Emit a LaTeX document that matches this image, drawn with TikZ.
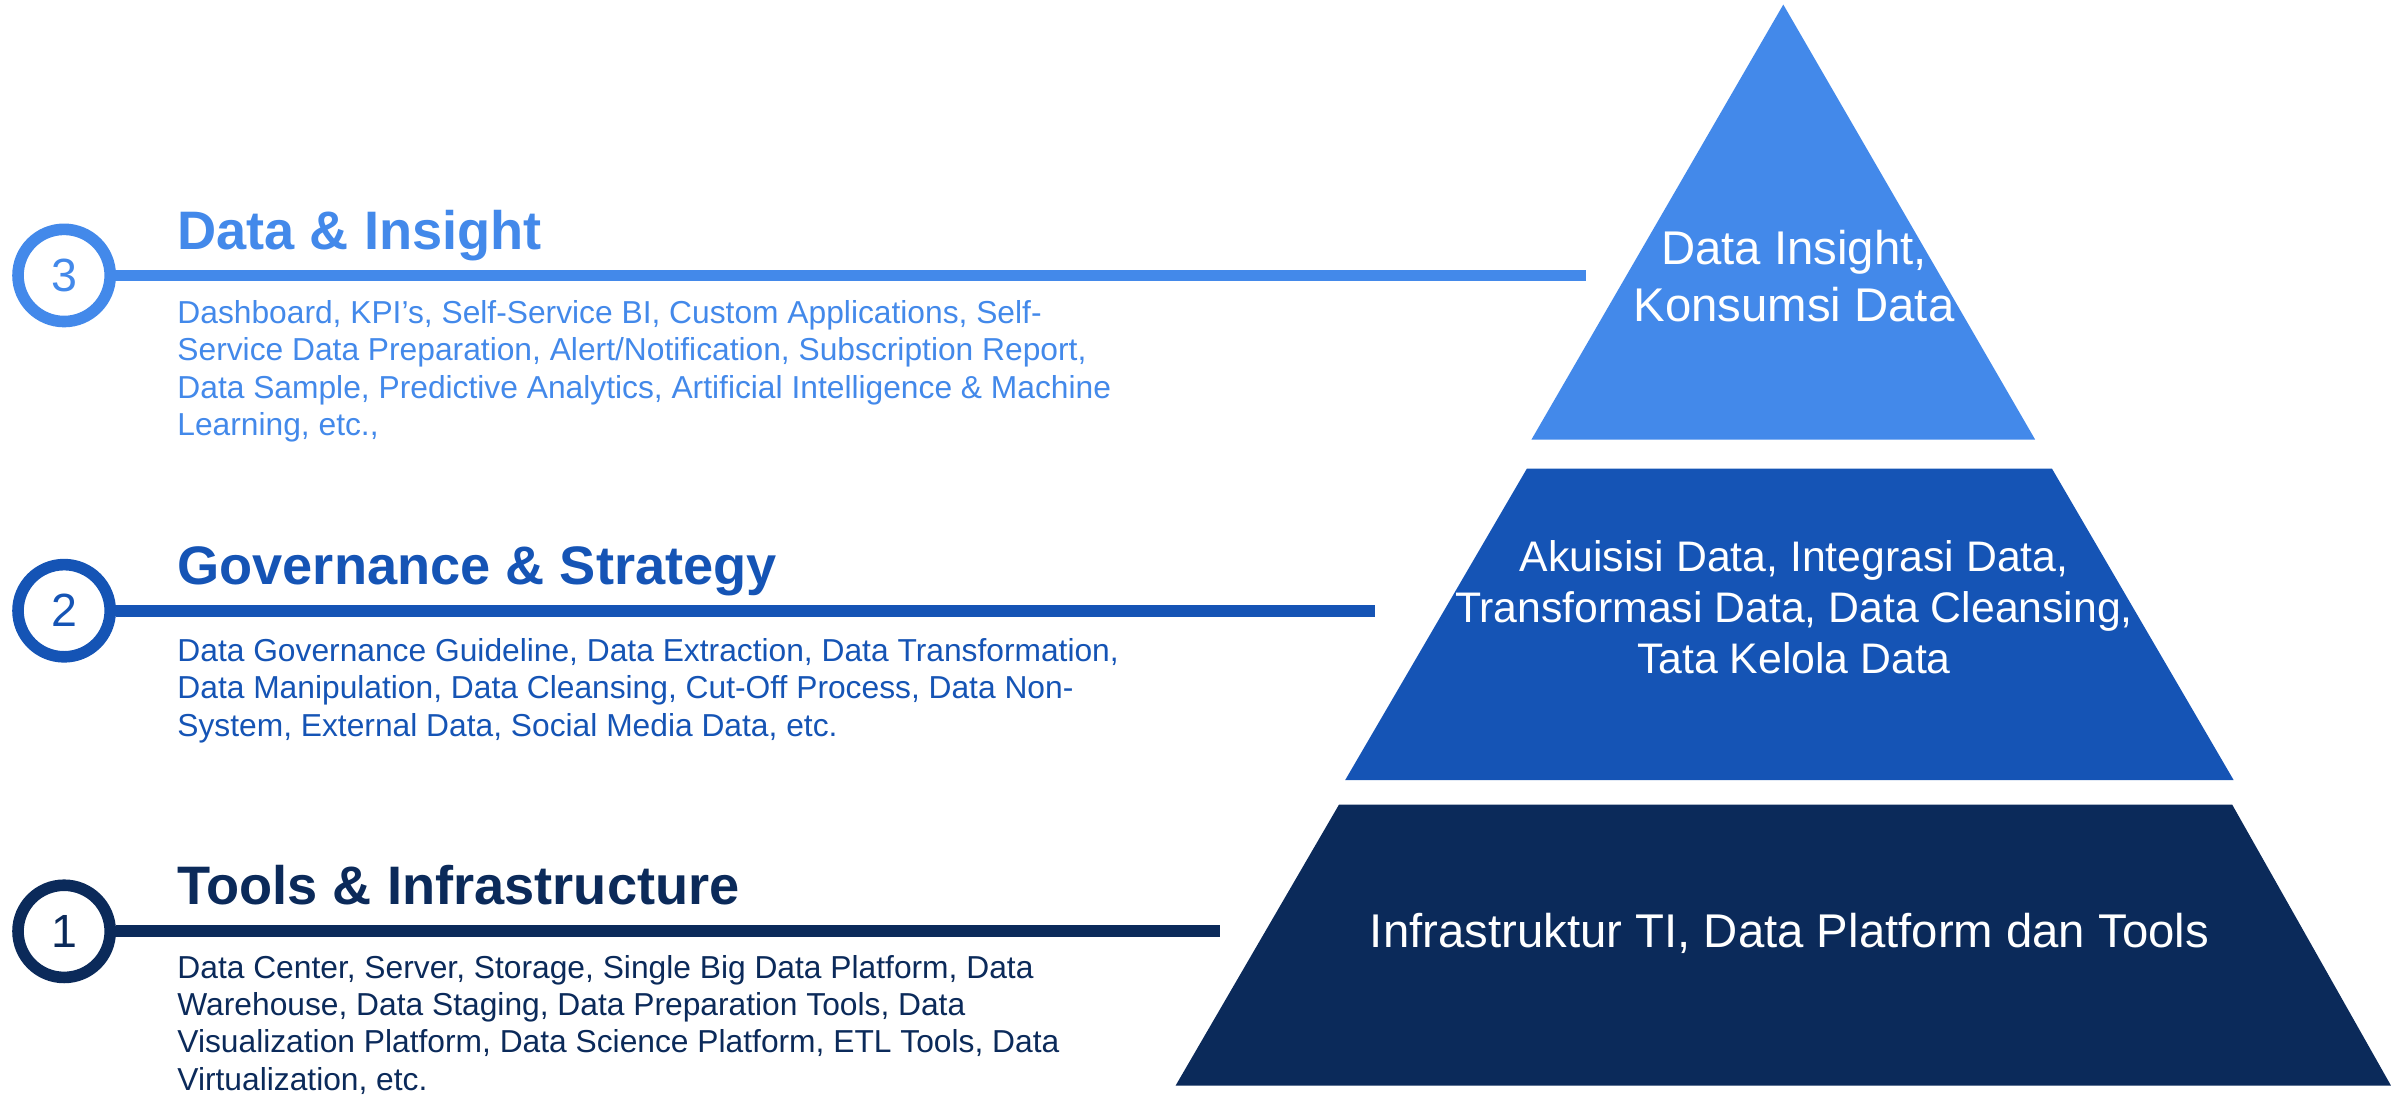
\documentclass[tikz,border=0pt]{standalone}
\usepackage{fontspec}
\setmainfont{Liberation Sans}
\definecolor{lightblue}{HTML}{4389EA}
\definecolor{midblue}{HTML}{1554B5}
\definecolor{navy}{HTML}{0B2A5A}
\begin{document}
\begin{tikzpicture}[x=1pt,y=-1pt,
  ring/.style={circle, draw=#1, line width=7.6pt, minimum size=60.4pt, inner sep=0pt, text=#1, font=\fontsize{30.5}{36}\selectfont},
  bar/.style={draw=#1, line width=7.7pt},
  heading/.style={anchor=base west, inner sep=0pt, text=#1, font=\fontsize{35.5}{40}\selectfont\bfseries},
  body/.style={anchor=base west, inner sep=0pt, text=#1, align=left, font=\fontsize{20.8}{24.5}\selectfont},
  layertext/.style={anchor=base, inner sep=0pt, text=white, align=center},
]
\useasboundingbox (0,0) rectangle (1568,719.2);
% pyramid layers
\fill[lightblue] (1168,3) -- (1333,288) -- (1003,288) -- cycle;
\fill[midblue] (1000,307) -- (1344,307) -- (1463,511) -- (881,511) -- cycle;
\fill[navy] (877,527) -- (1462,527) -- (1566,711) -- (770,711) -- cycle;
% (base anchor of a multi-line node = baseline of its last line)
\node[layertext, font=\fontsize{31}{37.2}\selectfont] (t3) at (1175,210.7) {Data Insight,\\Konsumsi Data};
\node[layertext, font=\fontsize{28}{33.6}\selectfont] (t2) at (1175,441.2) {Akuisisi Data, Integrasi Data,\\Transformasi Data, Data Cleansing,\\Tata Kelola Data};
\node[layertext, font=\fontsize{31}{37}\selectfont] (t1) at (1172,620.8) {Infrastruktur TI, Data Platform dan Tools};
% circles and bars
\node[ring=lightblue] (c3) at (42,180.4) {3};
\node[ring=midblue] (c2) at (42,400) {2};
\node[ring=navy] (c1) at (42,610) {1};
\coordinate (e3) at (1038.6,180.4);
\coordinate (e2) at (900.5,400);
\coordinate (e1) at (799,610);
\draw[bar=lightblue] (c3.east) -- (e3);
\draw[bar=midblue] (c2.east) -- (e2);
\draw[bar=navy] (c1.east) -- (e1);
% headings
\node[heading=lightblue] (h3) at (116,163.7) {Data \& Insight};
\node[heading=midblue] (h2) at (116,383) {Governance \& Strategy};
\node[heading=navy] (h1) at (116,592.7) {Tools \& Infrastructure};
% bodies
\node[body=lightblue] (b3) at (116,285.2) {Dashboard, KPI’s, Self-Service BI, Custom Applications, Self-\\Service Data Preparation, Alert/Notification, Subscription Report,\\Data Sample, Predictive Analytics, Artificial Intelligence \& Machine\\Learning, etc.,};
\node[body=midblue] (b2) at (116,482.3) {Data Governance Guideline, Data Extraction, Data Transformation,\\Data Manipulation, Data Cleansing, Cut-Off Process, Data Non-\\System, External Data, Social Media Data, etc.};
\node[body=navy] (b1) at (116,714.1) {Data Center, Server, Storage, Single Big Data Platform, Data\\Warehouse, Data Staging, Data Preparation Tools, Data\\Visualization Platform, Data Science Platform, ETL Tools, Data\\Virtualization, etc.};
\end{tikzpicture}
\end{document}
